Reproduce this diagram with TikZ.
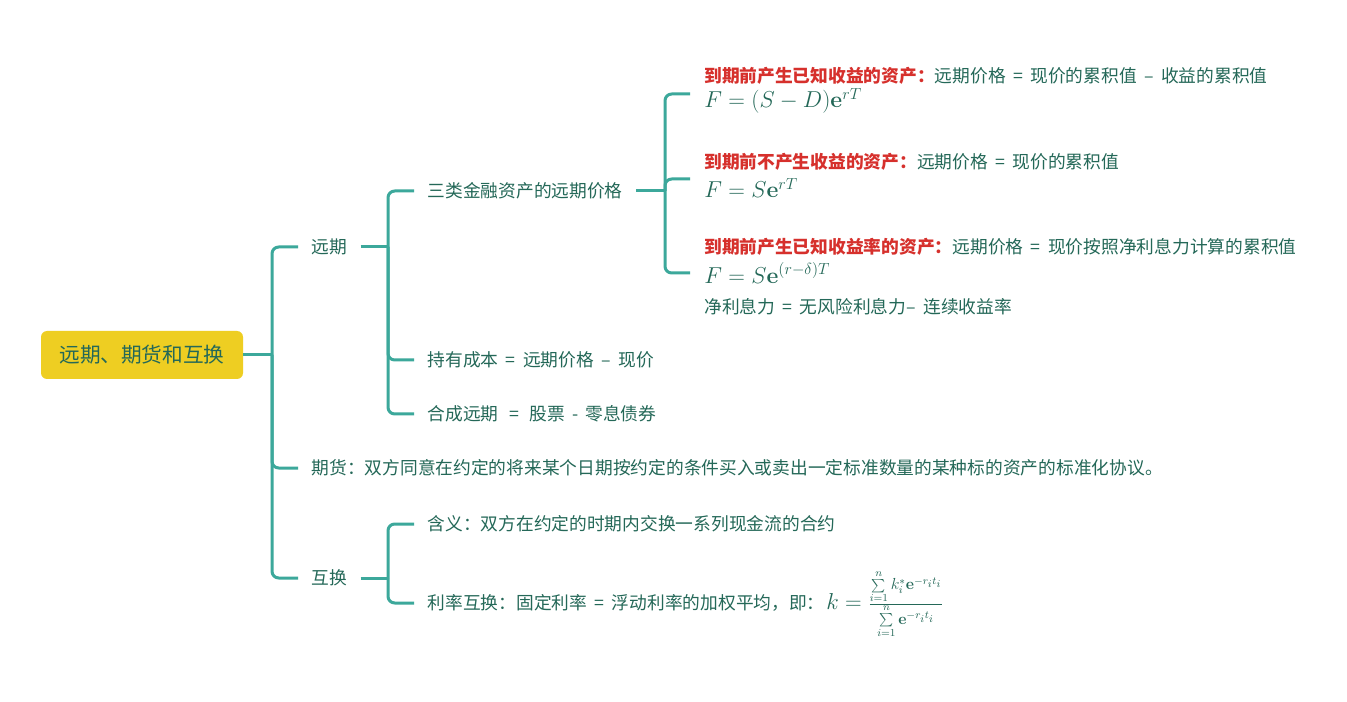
\documentclass[tikz,border=0pt]{standalone}
\usepackage[no-math]{fontspec}
\newfontfamily\cjk{Noto Sans CJK SC}
\usetikzlibrary{calc}
\definecolor{lineC}{RGB}{60,168,155}
\definecolor{textC}{RGB}{36,104,88}
\definecolor{redC}{RGB}{214,48,44}
\definecolor{yellowC}{RGB}{238,206,34}
\newcommand\myEq{\hspace{0.42em}=\hspace{0.42em}}
\newcommand\myDash{\hspace{0.42em}–\hspace{0.42em}}
\begin{document}
\begin{tikzpicture}[x=0.75pt,y=-0.75pt,
  conn/.style={draw=lineC, line width=2.25pt, rounded corners=5pt},
  txt/.style={font=\cjk\fontsize{13.3}{16}\selectfont, text=textC, inner sep=0pt, anchor=west},
  lbl/.style={txt, inner xsep=10pt},
  mth/.style={font=\fontsize{17}{20}\selectfont, text=textC, inner sep=0pt, anchor=west},
  rootbox/.style={fill=yellowC, rounded corners=4.5pt, minimum width=151.5pt, minimum height=36pt,
    inner sep=0pt, text=textC, font=\cjk\fontsize{15.5}{18}\selectfont}
]
\useasboundingbox (0,0) rectangle (1347,702);
\fill[white] (0,0) rectangle (1347,702);

% root
\node[rootbox] (root) at (142,355) {远期、期货和互换};

% level 1
\node[lbl] (yq) at (298,247) {远期};
\node[lbl] (qh) at (298,468) {期货：双方同意在约定的将来某个日期按约定的条件买入或卖出一定标准数量的某种标的资产的标准化协议。};
\node[lbl] (hh) at (298,578) {互换};

% level 2 under 远期
\node[lbl] (sl) at (414,191) {三类金融资产的远期价格};
\node[lbl] (cy) at (414,360) {持有成本\myEq 远期价格\myDash 现价};
\node[lbl] (hc) at (414,414) {合成远期\hspace{0.6em}=\hspace{0.6em}股票\hspace{0.4em}-\hspace{0.4em}零息债券};

% level 2 under 互换
\node[lbl] (hy) at (414,524) {含义：双方在约定的时期内交换一系列现金流的合约};
\node[lbl] (ll) at (414,603) {利率互换：固定利率\myEq 浮动利率的加权平均，即：};
\node[mth] (kf) at (826,604) {$k=\frac{\sum\limits_{i=1}^{n}k_i^{*}\mathbf{e}^{-r_it_i}}{\sum\limits_{i=1}^{n}\mathbf{e}^{-r_it_i}}$};

% level 3
\node[txt] (a1) at (704,76) {\textcolor{redC}{\bfseries 到期前产生已知收益的资产：}远期价格\myEq 现价的累积值\myDash 收益的累积值};
\node[mth] (f1) at (704,101) {$F=(S-D)\mathbf{e}^{rT}$};
\node[txt] (a2) at (704,162) {\textcolor{redC}{\bfseries 到期前不产生收益的资产：}远期价格\myEq 现价的累积值};
\node[mth] (f2) at (704,188) {$F=S\mathbf{e}^{rT}$};
\node[txt] (a3) at (704,247) {\textcolor{redC}{\bfseries 到期前产生已知收益率的资产：}远期价格\myEq 现价按照净利息力计算的累积值};
\node[mth] (f3) at (704,273) {$F=S\mathbf{e}^{(r-\delta)T}$};
\node[txt] (a4) at (704,307) {净利息力\myEq 无风险利息力–\hspace{0.42em}连续收益率};

\coordinate (r1) at (690,94);
\coordinate (r2) at (690,179);
\coordinate (r3) at (690,273);

% junctions
\coordinate (s1) at (272,355);
\coordinate (s2) at (388,247);
\coordinate (s3) at (388,578);
\coordinate (s4) at (665,191);

% connectors
\draw[conn] (root.east) -- (s1);
\draw[conn] (s1) |- (yq.west);
\draw[conn] (s1) |- (qh.west);
\draw[conn] (s1) |- (hh.west);

\draw[conn] (yq.east) -- (s2);
\draw[conn] (s2) |- (sl.west);
\draw[conn] (s2) |- (cy.west);
\draw[conn] (s2) |- (hc.west);

\draw[conn] (hh.east) -- (s3);
\draw[conn] (s3) |- (hy.west);
\draw[conn] (s3) |- (ll.west);

\draw[conn] (sl.east) -- (s4);
\draw[conn] (s4) |- (r1);
\draw[conn] (s4) |- (r2);
\draw[conn] (s4) |- (r3);
\end{tikzpicture}
\end{document}
